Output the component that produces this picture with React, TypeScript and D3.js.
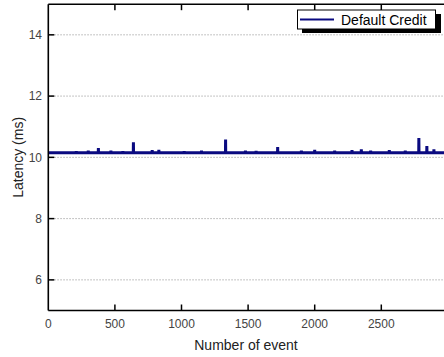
import React from "react";
import * as d3 from "d3";

const seriesName = "Default Credit";
const xTicks = [0, 500, 1000, 1500, 2000, 2500];
const yTicks = [6, 8, 10, 12, 14];
const baseline = 10.15;
const firstEvent = 0;
const lastEvent = 3000;
// spikes: [event, latency]
const spikeEvents = [210, 300, 376, 470, 560, 639, 780, 830, 1020, 1150, 1331, 1480, 1560, 1722, 1900, 2000, 2150, 2280, 2350, 2420, 2560, 2680, 2782, 2842, 2895];
const spikeValues = [10.2, 10.22, 10.3, 10.22, 10.2, 10.49, 10.24, 10.25, 10.2, 10.22, 10.58, 10.22, 10.21, 10.34, 10.22, 10.25, 10.22, 10.24, 10.26, 10.22, 10.24, 10.22, 10.63, 10.37, 10.26];

const W = 444;
const H = 357;

export default function App() {
  const x = d3.scaleLinear().domain([0, 3000]).range([48.3, 447.9]);
  const y = d3.scaleLinear().domain([5, 15]).range([310.5, 4.2]);

  const pts: [number, number][] = [[firstEvent, baseline]];
  spikeEvents.forEach((e, i) => {
    pts.push([e - 1, baseline]);
    pts.push([e, spikeValues[i]]);
    pts.push([e + 1, baseline]);
  });
  pts.push([lastEvent, baseline]);

  const line = d3
    .line<[number, number]>()
    .x((d) => x(d[0]))
    .y((d) => y(d[1]));

  const left = x(0);
  const right = x(3000);
  const top = y(15);
  const bottom = y(5);
  const font = "'Liberation Sans', Arial, sans-serif";

  return (
    <svg
      width={W}
      height={H}
      style={{ position: "absolute", left: 0, top: 0, background: "#fff" }}
      fontFamily={font}
    >
      {yTicks.map((t) => (
        <line
          key={"g" + t}
          x1={left}
          x2={right}
          y1={y(t)}
          y2={y(t)}
          stroke="#b0b0b0"
          strokeWidth={1}
          strokeDasharray="1.5,1.5"
        />
      ))}
      <path d={line(pts) || ""} fill="none" stroke="#0a0a80" strokeWidth={3} strokeLinejoin="bevel" />
      <line x1={left} x2={left} y1={top} y2={bottom} stroke="#000" strokeWidth={1.6} />
      <line x1={left} x2={right} y1={bottom} y2={bottom} stroke="#000" strokeWidth={1.6} />
      <line x1={left} x2={right} y1={top} y2={top} stroke="#000" strokeWidth={1.6} />
      {yTicks.map((t) => (
        <g key={"y" + t}>
          <line x1={left} x2={left + 6} y1={y(t)} y2={y(t)} stroke="#000" strokeWidth={1.5} />
          <text x={42} y={y(t)} dy="0.35em" textAnchor="end" fontSize={12} fill="#444">
            {t}
          </text>
        </g>
      ))}
      {xTicks.map((t) => (
        <g key={"x" + t}>
          {t > 0 && (
            <>
              <line x1={x(t)} x2={x(t)} y1={bottom} y2={bottom - 6} stroke="#000" strokeWidth={1.5} />
              <line x1={x(t)} x2={x(t)} y1={top} y2={top + 6} stroke="#000" strokeWidth={1.5} />
            </>
          )}
          <text x={x(t)} y={328} textAnchor="middle" fontSize={12} fill="#444">
            {t}
          </text>
        </g>
      ))}
      <text x={246} y={350} textAnchor="middle" fontSize={14} fill="#222">
        Number of event
      </text>
      <text
        transform={`translate(23,${(top + bottom) / 2}) rotate(-90)`}
        textAnchor="middle"
        fontSize={14}
        fill="#222"
      >
        Latency (ms)
      </text>
      <rect x={302} y={14} width={139} height={19} fill="#000" />
      <rect x={297.5} y={10} width={138} height={19} fill="#fff" stroke="#000" strokeWidth={1} />
      <line x1={300} x2={334} y1={19.5} y2={19.5} stroke="#0a0a80" strokeWidth={2} />
      <text x={341} y={24.5} fontSize={14} fill="#000">
        {seriesName}
      </text>
    </svg>
  );
}
